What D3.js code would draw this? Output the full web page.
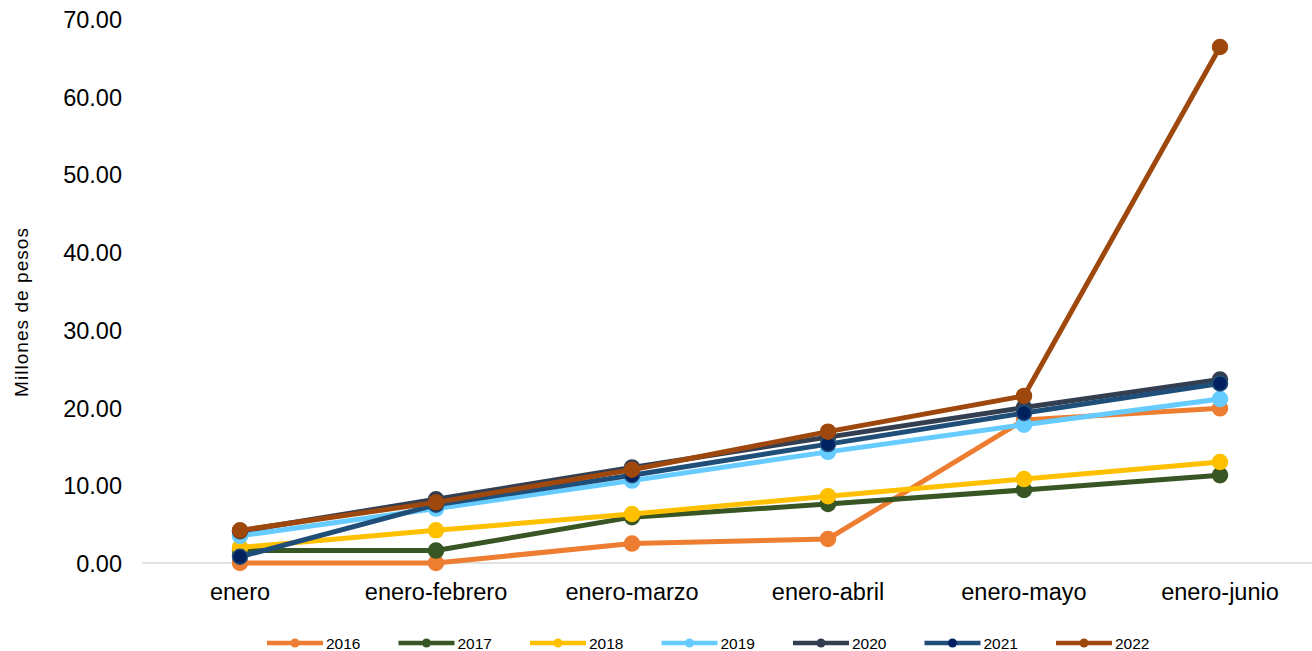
<!DOCTYPE html>
<html><head><meta charset="utf-8">
<script src="https://cdn.jsdelivr.net/npm/d3@7"></script>
<style>body{margin:0;background:#fff;} text{font-family:"Liberation Sans",Arial,sans-serif;fill:#000;}</style>
</head><body>
<svg id="c" width="1312" height="651"></svg>
<script>
const categories = ["enero","enero-febrero","enero-marzo","enero-abril","enero-mayo","enero-junio"];
const years = ["2016","2017","2018","2019","2020","2021","2022"];
const v2016 = [0.0, 0.0, 2.5, 3.1, 18.4, 19.9];
const v2017 = [1.6, 1.6, 5.9, 7.6, 9.4, 11.3];
const v2018 = [2.0, 4.2, 6.3, 8.6, 10.8, 13.0];
const v2019 = [3.5, 7.0, 10.6, 14.3, 17.8, 21.1];
const v2020 = [4.1, 8.2, 12.3, 16.2, 20.0, 23.6];
const v2021 = [0.8, 7.5, 11.3, 15.3, 19.3, 23.1];
const v2022 = [4.2, 7.8, 12.0, 16.9, 21.5, 66.4];
const yTicks = [0,10,20,30,40,50,60,70];
const lineColors = ["#ED7D31","#375623","#FFC000","#66CCFF","#333F50","#1F4E79","#9E480E"];
const markerColors = ["#ED7D31","#375623","#FFC000","#66CCFF","#333F50","#002060","#9E480E"];
const seriesValues = [v2016,v2017,v2018,v2019,v2020,v2021,v2022];

const svg = d3.select("#c");
const x = d3.scaleBand().domain(categories).range([142,1318]);
const y = d3.scaleLinear().domain([0,70]).range([563,19]);
const cx = d => x(d) + x.bandwidth()/2;

svg.append("line").attr("x1",142).attr("x2",1312).attr("y1",y(0)).attr("y2",y(0))
  .attr("stroke","#d9d9d9").attr("stroke-width",1.5);

const yAxis = d3.axisLeft(y).tickValues(yTicks).tickFormat(d3.format(".2f")).tickSize(0).tickPadding(0);
const yg = svg.append("g").attr("transform","translate(122,0)").call(yAxis);
yg.select(".domain").remove();
yg.selectAll("text").style("font-size","23.5px").attr("dy","0.36em").attr("fill","#000");

const xAxis = d3.axisBottom(x).tickSize(0).tickPadding(0);
const xg = svg.append("g").attr("transform","translate(0,0)").call(xAxis);
xg.select(".domain").remove();
xg.selectAll("text").style("font-size","23.5px").attr("y",600).attr("dy","0").attr("fill","#000");

svg.append("text").attr("transform","translate(28,312.5) rotate(-90)").attr("text-anchor","middle")
  .style("font-size","19px").attr("textLength",169).attr("lengthAdjust","spacing").text("Millones de pesos");

const line = d3.line().x((d,i)=>cx(categories[i])).y(d=>y(d));
years.forEach((yr,k)=>{
  const g = svg.append("g");
  g.append("path").datum(seriesValues[k]).attr("d",line).attr("fill","none")
    .attr("stroke",lineColors[k]).attr("stroke-width",5).attr("stroke-linejoin","round");
  g.selectAll("circle").data(seriesValues[k]).join("circle")
    .attr("cx",(d,i)=>cx(categories[i])).attr("cy",d=>y(d)).attr("r",7.5)
    .attr("fill",markerColors[k]).attr("stroke",lineColors[k]).attr("stroke-width",1.5);
});

const lg = svg.append("g");
years.forEach((yr,k)=>{
  const lx = 267 + k*131.5, ly = 643;
  lg.append("line").attr("x1",lx).attr("x2",lx+56).attr("y1",ly).attr("y2",ly)
    .attr("stroke",lineColors[k]).attr("stroke-width",4.5);
  lg.append("circle").attr("cx",lx+28).attr("cy",ly).attr("r",4.5).attr("fill",markerColors[k]);
  lg.append("text").attr("x",lx+59).attr("y",ly).attr("dy","0.36em").style("font-size","15.5px").text(yr);
});
</script>
</body></html>
